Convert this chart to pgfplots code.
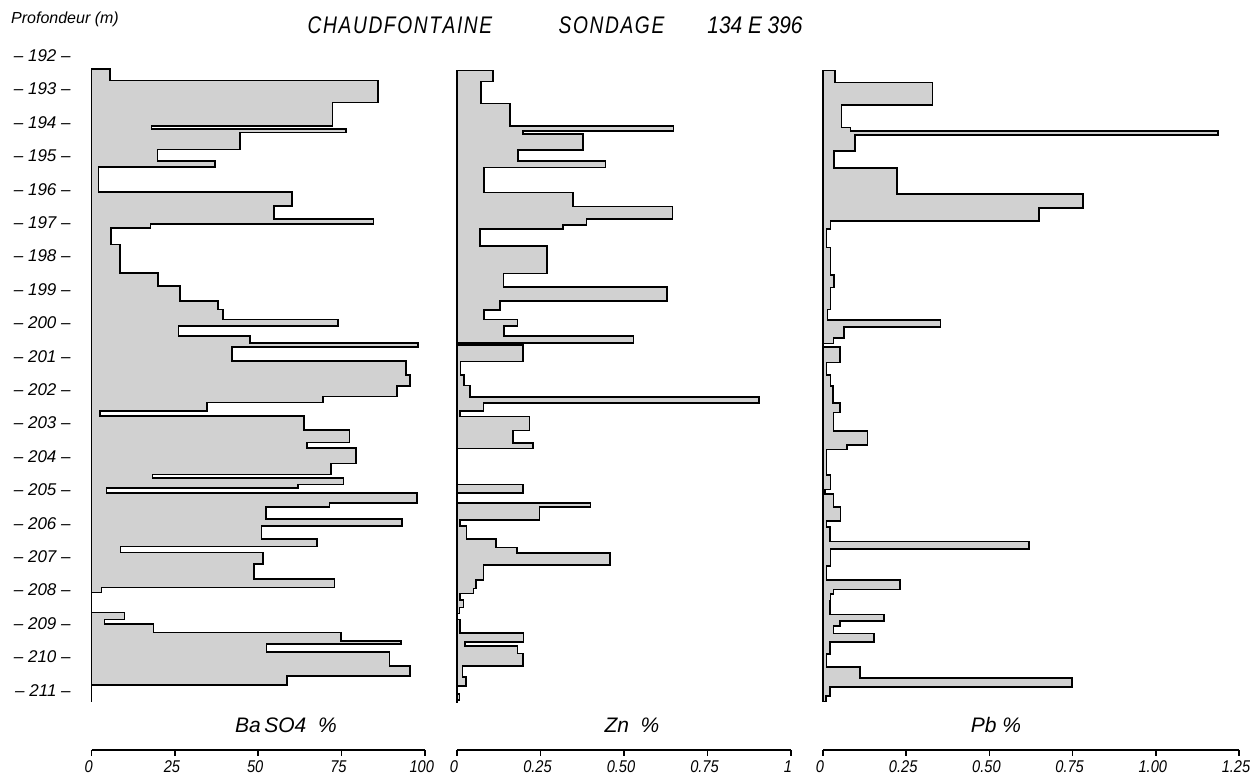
\documentclass[border=0pt]{standalone}
\usepackage{fontspec}
\setmainfont{Liberation Sans}
\usepackage{graphicx}
\usepackage{pgfplots}
\pgfplotsset{compat=1.18}
\newcommand{\sx}[2][0.87]{\scalebox{#1}[1]{#2}}
\newcommand{\tl}[1]{\scalebox{0.86}[1]{#1}}
\newcommand{\ks}{\kern1pt}
\begin{document}
\begin{tikzpicture}
\path[use as bounding box] (0,0) rectangle (625pt,388.5pt);
\pgfplotsset{
  depth/.style={scale only axis, height=334pt, ymin=191.5, ymax=211.5, y dir=reverse, clip=false, anchor=center},
  prof/.style={draw=black, line width=0.8pt, fill=black!18, line join=miter},
  scalax/.style={scale only axis, height=1pt, ymin=0, ymax=1, anchor=south west,
    axis x line=bottom, axis y line=none, x axis line style={-, line width=1pt},
    tick align=outside, major tick length=3pt, xtick style={line width=0.8pt, black},
    xticklabel style={font=\itshape\fontsize{8.5}{10}\selectfont, inner sep=2pt, xshift=-1.5pt}},
}
% ---------- Ba SO4 ----------
\begin{axis}[depth, width=166.5pt, xmin=0, xmax=100, at={(129.1pt,202.05pt)},
  axis x line=none, axis y line=left, y axis line style={draw=none}, major tick length=0pt,
  ytick={192,193,194,195,196,197,198,199,200,201,202,203,204,205,206,207,208,209,210,211},
  yticklabels={--~192~--,--~193~--,--~194~--,--~195~--,--~196~--,--~197~--,--~198~--,--~199~--,--~200~--,--~201~--,--~202~--,--~203~--,--~204~--,--~205~--,--~206~--,--~207~--,--~208~--,--~209~--,--~210~--,--~211~--},
  yticklabel style={font=\itshape\fontsize{8.5}{10}\selectfont, anchor=east, xshift=-7pt}]
\addplot[prof] coordinates {(0,192.41) (5.5,192.41) (5.5,192.74) (86,192.74) (86,193.41) (72.3,193.41) (72.3,194.10) (18,194.10) (18,194.20) (76.4,194.20) (76.4,194.30) (44.5,194.30) (44.5,194.81) (19.7,194.81) (19.7,195.15) (37,195.15) (37,195.33) (2,195.33) (2,196.09) (60.2,196.09) (60.2,196.50) (54.7,196.50) (54.7,196.89) (84.6,196.89) (84.6,197.05) (17.7,197.05) (17.7,197.17) (5.8,197.17) (5.8,197.65) (8.5,197.65) (8.5,198.50) (20,198.50) (20,198.90) (26.6,198.90) (26.6,199.35) (38,199.35) (38,199.60) (39.5,199.60) (39.5,199.90) (73.9,199.90) (73.9,200.10) (26.1,200.10) (26.1,200.40) (47.5,200.40) (47.5,200.60) (98,200.60) (98,200.72) (42.2,200.72) (42.2,201.15) (94.4,201.15) (94.4,201.56) (95.6,201.56) (95.6,201.89) (91.6,201.89) (91.6,202.21) (69.4,202.21) (69.4,202.39) (34.7,202.39) (34.7,202.64) (2.5,202.64) (2.5,202.79) (63.8,202.79) (63.8,203.21) (77.4,203.21) (77.4,203.58) (64.6,203.58) (64.6,203.74) (79.3,203.74) (79.3,204.21) (71.9,204.21) (71.9,204.54) (18.2,204.54) (18.2,204.64) (75.6,204.64) (75.6,204.84) (62,204.84) (62,204.94) (4.5,204.94) (4.5,205.09) (97.6,205.09) (97.6,205.39) (71.4,205.39) (71.4,205.51) (52.3,205.51) (52.3,205.87) (93.1,205.87) (93.1,206.08) (51,206.08) (51,206.47) (67.7,206.47) (67.7,206.70) (8.7,206.70) (8.7,206.88) (51.5,206.88) (51.5,207.23) (48.7,207.23) (48.7,207.67) (72.9,207.67) (72.9,207.92) (3,207.92) (3,208.08) (0,208.08) (0,208.67) (9.8,208.67) (9.8,208.88) (3.8,208.88) (3.8,209.02) (18.5,209.02) (18.5,209.27) (74.8,209.27) (74.8,209.53) (92.8,209.53) (92.8,209.62) (52.5,209.62) (52.5,209.86) (89.4,209.86) (89.4,210.27) (95.6,210.27) (95.6,210.57) (58.7,210.57) (58.7,210.84) (0,210.84) (0,211.35)} -- cycle;
\end{axis}
% ---------- Zn ----------
\begin{axis}[depth, width=167pt, xmin=0, xmax=1, at={(312pt,202.05pt)}, hide axis]
\addplot[prof] coordinates {(0,192.45) (0.107,192.45) (0.107,192.78) (0.071,192.78) (0.071,193.43) (0.159,193.43) (0.159,194.10) (0.648,194.10) (0.648,194.25) (0.197,194.25) (0.197,194.35) (0.378,194.35) (0.378,194.83) (0.182,194.83) (0.182,195.15) (0.445,195.15) (0.445,195.35) (0.081,195.35) (0.081,196.10) (0.348,196.10) (0.348,196.52) (0.645,196.52) (0.645,196.90) (0.388,196.90) (0.388,197.07) (0.318,197.07) (0.318,197.20) (0.069,197.20) (0.069,197.70) (0.269,197.70) (0.269,198.52) (0.139,198.52) (0.139,198.92) (0.628,198.92) (0.628,199.35) (0.129,199.35) (0.129,199.62) (0.081,199.62) (0.081,199.90) (0.181,199.90) (0.181,200.10) (0.140,200.10) (0.140,200.40) (0.528,200.40) (0.528,200.60) (0,200.60) (0,200.66) (0.197,200.66) (0.197,201.16) (0.011,201.16) (0.011,201.56) (0.021,201.56) (0.021,201.88) (0.039,201.88) (0.039,202.23) (0.905,202.23) (0.905,202.41) (0.079,202.41) (0.079,202.64) (0.009,202.64) (0.009,202.81) (0.217,202.81) (0.217,203.23) (0.167,203.23) (0.167,203.59) (0.228,203.59) (0.228,203.76) (0,203.76) (0,204.84) (0.197,204.84) (0.197,205.10) (0,205.10) (0,205.39) (0.400,205.39) (0.400,205.51) (0.247,205.51) (0.247,205.90) (0.009,205.90) (0.009,206.08) (0.029,206.08) (0.029,206.48) (0.117,206.48) (0.117,206.73) (0.179,206.73) (0.179,206.90) (0.458,206.90) (0.458,207.25) (0.079,207.25) (0.079,207.70) (0.057,207.70) (0.057,207.95) (0.049,207.95) (0.049,208.11) (0.009,208.11) (0.009,208.30) (0.019,208.30) (0.019,208.52) (0.007,208.52) (0.007,208.70) (0,208.70) (0,208.88) (0.009,208.88) (0.009,209.28) (0.199,209.28) (0.199,209.55) (0.024,209.55) (0.024,209.68) (0.181,209.68) (0.181,209.90) (0.197,209.90) (0.197,210.28) (0.017,210.28) (0.017,210.60) (0.027,210.60) (0.027,210.87) (0,210.87) (0,211.11) (0.007,211.11) (0.007,211.29) (0,211.29) (0,211.38)} -- cycle;
\end{axis}
% ---------- Pb ----------
\begin{axis}[depth, width=208pt, xmin=0, xmax=1.25, at={(515.5pt,202.05pt)}, hide axis]
\addplot[prof] coordinates {(0,192.45) (0.036,192.45) (0.036,192.81) (0.329,192.81) (0.329,193.48) (0.056,193.48) (0.056,194.15) (0.083,194.15) (0.083,194.25) (1.186,194.25) (1.186,194.38) (0.096,194.38) (0.096,194.86) (0.033,194.86) (0.033,195.36) (0.223,195.36) (0.223,196.15) (0.781,196.15) (0.781,196.57) (0.649,196.57) (0.649,196.95) (0.023,196.95) (0.023,197.20) (0.011,197.20) (0.011,197.74) (0.023,197.74) (0.023,198.57) (0.033,198.57) (0.033,198.94) (0.023,198.94) (0.023,199.60) (0.013,199.60) (0.013,199.92) (0.353,199.92) (0.353,200.12) (0.063,200.12) (0.063,200.45) (0.031,200.45) (0.031,200.62) (0,200.62) (0,200.73) (0.051,200.73) (0.051,201.19) (0.011,201.19) (0.011,201.56) (0.023,201.56) (0.023,201.90) (0.030,201.90) (0.030,202.41) (0.051,202.41) (0.051,202.69) (0.031,202.69) (0.031,203.24) (0.134,203.24) (0.134,203.66) (0.073,203.66) (0.073,203.79) (0.011,203.79) (0.011,204.56) (0.023,204.56) (0.023,204.99) (0.006,204.99) (0.006,205.13) (0.031,205.13) (0.031,205.51) (0.053,205.51) (0.053,205.93) (0.011,205.93) (0.011,206.12) (0.021,206.12) (0.021,206.55) (0.619,206.55) (0.619,206.77) (0.023,206.77) (0.023,207.28) (0.011,207.28) (0.011,207.70) (0.231,207.70) (0.231,207.98) (0.031,207.98) (0.031,208.12) (0.023,208.12) (0.023,208.32) (0.021,208.32) (0.021,208.73) (0.184,208.73) (0.184,208.92) (0.051,208.92) (0.051,209.08) (0.031,209.08) (0.031,209.30) (0.153,209.30) (0.153,209.55) (0.021,209.55) (0.021,209.92) (0.011,209.92) (0.011,210.30) (0.111,210.30) (0.111,210.64) (0.749,210.64) (0.749,210.91) (0.021,210.91) (0.021,211.17) (0.009,211.17) (0.009,211.34) (0,211.34)} -- cycle;
\end{axis}
% ---------- scales ----------
\begin{axis}[scalax, width=166.5pt, xmin=0, xmax=100, at={(45.85pt,13.5pt)},
  xtick={0,25,50,75,100}, xticklabels={\tl{0},\tl{25},\tl{50},\tl{75},\tl{100}}]
\end{axis}
\begin{axis}[scalax, width=167pt, xmin=0, xmax=1, at={(228.5pt,13.5pt)},
  xtick={0,0.25,0.5,0.75,1}, xticklabels={\tl{0},\tl{0.25},\tl{0.50},\tl{0.75},\tl{1}}]
\end{axis}
\begin{axis}[scalax, width=208pt, xmin=0, xmax=1.25, at={(411.5pt,13.5pt)},
  xtick={0,0.25,0.5,0.75,1,1.25}, xticklabels={\tl{0},\tl{0.25},\tl{0.50},\tl{0.75},\tl{1.00},\tl{1.25}}]
\end{axis}
% ---------- texts ----------
\node[font=\itshape\fontsize{10.5}{12}\selectfont] at (143pt,26pt) {Ba\,SO4~~\%};
\node[font=\itshape\fontsize{10.5}{12}\selectfont] at (316pt,26pt) {Zn~~\%};
\node[font=\itshape\fontsize{10.5}{12}\selectfont] at (498pt,26pt) {Pb~\%};
\node[font=\itshape\fontsize{12}{14}\selectfont] at (200pt,376pt) {\sx[0.8]{C\ks H\ks A\ks U\ks D\ks F\ks O\ks N\ks T\ks A\ks I\ks N\ks E}};
\node[font=\itshape\fontsize{12}{14}\selectfont] at (305.75pt,376pt) {\sx[0.8]{S\ks O\ks N\ks D\ks A\ks G\ks E}};
\node[font=\itshape\fontsize{12}{14}\selectfont] at (377.5pt,376pt) {\sx{134 E 396}};
\node[font=\itshape\fontsize{8}{10}\selectfont] at (32.5pt,379pt) {Profondeur (m)};
\end{tikzpicture}
\end{document}
